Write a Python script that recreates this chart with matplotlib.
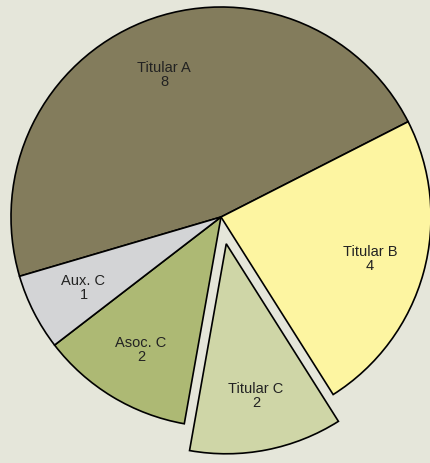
import matplotlib
matplotlib.use("Agg")
import matplotlib.pyplot as plt

categories = ["Titular A", "Titular B", "Titular C", "Asoc. C", "Aux. C"]
values = [8, 4, 2, 2, 1]
explode = [0, 0, 0.13, 0, 0]
colors = ["#837c5c", "#fdf5a1", "#cfd6a7", "#adb974", "#d3d4d6"]
bg = "#e5e6da"

plt.rcParams['font.family'] = ['Liberation Sans', 'DejaVu Sans']

W, H = 431, 464
fig = plt.figure(figsize=(W / 100, H / 100), dpi=100, facecolor=bg)
cx, cy, r = 221, 218, 210
ax = fig.add_axes([(cx - r) / W, (H - cy - r) / H, 2 * r / W, 2 * r / H])
ax.set_facecolor(bg)
ax.axis("off")

labels = [f"{c}\n{v}" for c, v in zip(categories, values)]
wedges, texts = ax.pie(values, labels=labels, colors=colors, explode=explode,
                       startangle=196.4, counterclock=False,
                       labeldistance=0.735,
                       wedgeprops=dict(edgecolor="black", linewidth=1.2),
                       textprops=dict(fontsize=10.5, color="#222222",
                                      ha="center", va="center",
                                      linespacing=1.0))
for w in wedges:
    w.set_clip_on(False)
for t in texts:
    t.set_horizontalalignment("center")
    t.set_verticalalignment("center")
ax.set_xlim(-1, 1)
ax.set_ylim(-1, 1)
ax.set_aspect("auto")

fig.savefig("out.png", dpi=100, facecolor=bg)
